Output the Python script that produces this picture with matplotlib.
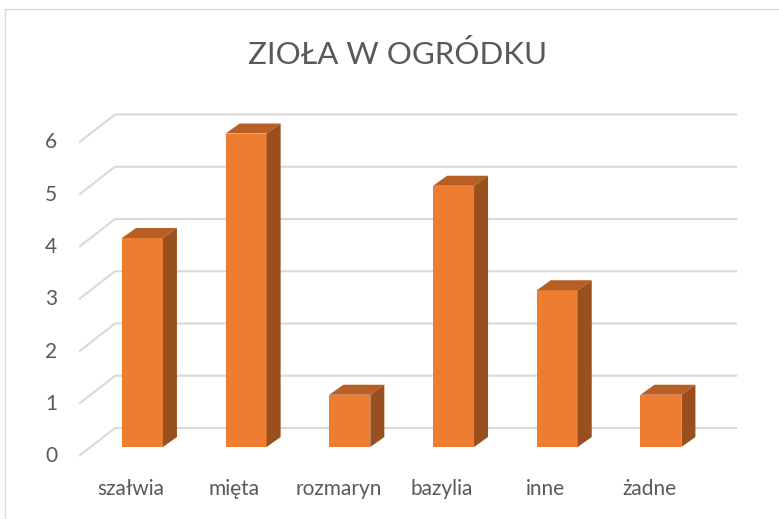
import matplotlib.pyplot as plt
import numpy as np
from matplotlib.lines import Line2D
from matplotlib.patches import Polygon

CATEGORIES = ["szałwia", "mięta", "rozmaryn", "bazylia", "inne", "żadne"]
VALUES = [4, 6, 1, 5, 3, 1]
Y_TICKS = [0, 1, 2, 3, 4, 5, 6]
TITLE = "ZIOŁA W OGRÓDKU"

FRONT = "#ed7d31"
TOP = "#b75f24"
SIDE = "#9a4f1e"
GRID = "#d9d9d9"
TEXT = "#595959"
FONT = ["Lato", "DejaVu Sans"]

# pixel offsets (right, up) of the pseudo-3d planes relative to the bar front plane
BAR_DEPTH = (14, 10)
WALL_BACK = (24.4, 19)
FLOOR_FRONT = (-11.6, -9)

W, H = 779, 519
fig = plt.figure(figsize=(W / 100, H / 100), dpi=100)
ax = fig.add_axes([90.6 / W, 72 / H, 622.2 / W, 313.5 / H])
ax.set_xlim(-0.5, len(CATEGORIES) - 0.5)
ax.set_ylim(0, max(Y_TICKS))
ax.axis("off")


def shift(points, off):
    disp = ax.transData.transform(np.atleast_2d(points)) + np.array(off)
    return ax.transData.inverted().transform(disp)


# gridlines: diagonal on the left wall, then along the back wall
for v in Y_TICKS:
    pts = np.vstack([
        shift((-0.5, v), FLOOR_FRONT),
        shift((-0.5, v), WALL_BACK),
        shift((len(CATEGORIES) - 0.5, v), WALL_BACK),
    ])
    ax.add_line(Line2D(pts[:, 0], pts[:, 1], color=GRID, lw=1.5, zorder=1,
                       clip_on=False, solid_capstyle="butt"))
    fx, fy = ax.transData.transform(shift((-0.5, v), FLOOR_FRONT))[0]
    ax.text(fx - 22, fy, str(v), transform=None, ha="right", va="center",
            fontsize=15, color=TEXT, family=FONT)

# bars
x = np.arange(len(CATEGORIES))
width = 0.395
ax.bar(x, VALUES, width=width, color=FRONT, zorder=3, clip_on=False)
for xi, v in zip(x, VALUES):
    l, r = xi - width / 2, xi + width / 2
    top = np.vstack([[l, v], [r, v], shift((r, v), BAR_DEPTH), shift((l, v), BAR_DEPTH)])
    side = np.vstack([[r, 0], [r, v], shift((r, v), BAR_DEPTH), shift((r, 0), BAR_DEPTH)])
    ax.add_patch(Polygon(top, closed=True, facecolor=TOP, edgecolor="none", zorder=3, clip_on=False))
    ax.add_patch(Polygon(side, closed=True, facecolor=SIDE, edgecolor="none", zorder=3, clip_on=False))

# category labels on the front edge of the floor
for xi, name in zip(x, CATEGORIES):
    fx = ax.transData.transform(shift((xi, 0), FLOOR_FRONT))[0][0]
    ax.text(fx, H - 489, name, transform=None, ha="center", va="center",
            fontsize=15, color=TEXT, family=FONT)

fig.text(397.5 / W, 1 - 64 / H, TITLE, ha="center", va="baseline",
         fontsize=22.5, color=TEXT, family=FONT)

# chart area border (only top and left edges visible)
fig.add_artist(Line2D([5 / W, 1], [1 - 9 / H, 1 - 9 / H], transform=fig.transFigure,
                      color=GRID, lw=1))
fig.add_artist(Line2D([5 / W, 5 / W], [0, 1 - 9 / H], transform=fig.transFigure,
                      color=GRID, lw=1))

fig.savefig("out.png", dpi=100)
